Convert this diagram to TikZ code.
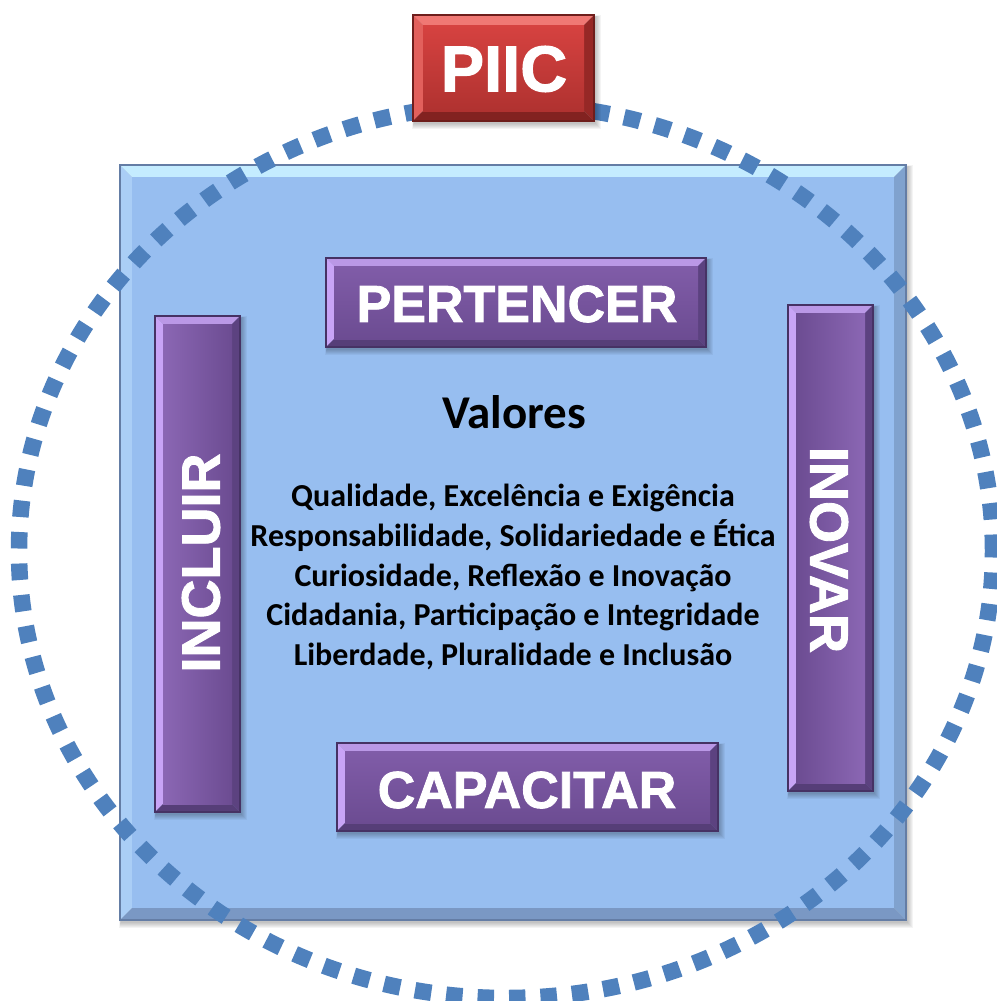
\documentclass[tikz,border=0pt]{standalone}
\usepackage{fontspec}
\newfontfamily\boxfont[BoldFeatures={FakeBold=1.6}]{Liberation Sans}
\newfontfamily\calfont{Carlito}
\definecolor{blface}{RGB}{151,190,240}
\definecolor{bltop}{RGB}{196,236,255}
\definecolor{blleft}{RGB}{170,206,246}
\definecolor{blright}{RGB}{128,162,206}
\definecolor{blbot}{RGB}{122,152,196}
\definecolor{blline}{RGB}{100,125,165}
\definecolor{puface}{RGB}{128,92,168}
\definecolor{pudark}{RGB}{108,76,146}
\definecolor{putop}{RGB}{186,152,230}
\definecolor{puleft}{RGB}{200,164,246}
\definecolor{puright}{RGB}{92,66,128}
\definecolor{pubot}{RGB}{86,62,120}
\definecolor{puline}{RGB}{70,50,100}
\definecolor{rdface}{RGB}{214,66,64}
\definecolor{rddark}{RGB}{176,50,48}
\definecolor{rdtop}{RGB}{240,120,116}
\definecolor{rdleft}{RGB}{226,96,92}
\definecolor{rdright}{RGB}{150,40,38}
\definecolor{rdbot}{RGB}{130,34,32}
\definecolor{rdline}{RGB}{110,30,28}
\definecolor{ringc}{RGB}{79,129,189}
\tikzset{
  boxlabel/.style={text=white,inner sep=0pt},
  vallabel/.style={font=\calfont\bfseries\fontsize{32}{39.7}\selectfont,align=center,inner sep=0pt},
  ring/.style={draw=ringc,line width=16.5pt,dash pattern=on 16.5pt off 15pt},
}
% #1 x1, #2 y1, #3 x2, #4 y2, #5 bevel, #6 colour prefix
\newcommand\mybevbox[6]{%
  \foreach \s in {1,2,...,6}{
    \fill[black,opacity=0.045] (#1+1-\s*0.3,#2+2-\s*0.3) rectangle (#3+1+\s,#4+2+\s);
  }
  \fill[#6top] (#1,#2) -- (#3,#2) -- (#3-#5,#2+#5) -- (#1+#5,#2+#5) -- cycle;
  \fill[#6left] (#1,#2) -- (#1+#5,#2+#5) -- (#1+#5,#4-#5) -- (#1,#4) -- cycle;
  \fill[#6right] (#3,#2) -- (#3,#4) -- (#3-#5,#4-#5) -- (#3-#5,#2+#5) -- cycle;
  \fill[#6bot] (#1,#4) -- (#1+#5,#4-#5) -- (#3-#5,#4-#5) -- (#3,#4) -- cycle;
  \draw[#6line,line width=1.2pt] (#1,#2) rectangle (#3,#4);
}
% #1 name, #2 x, #3 y, #4 rotation, #5 size, #6 text
\newcommand\myboxtext[6]{%
  \node[boxlabel,rotate=#4,font=\boxfont\bfseries\fontsize{#5}{#5}\selectfont] (#1) at (#2,#3) {#6};
}
\begin{document}
\begin{tikzpicture}[x=1pt,y=-1pt]
\useasboundingbox (0,0) rectangle (996,1001);
% blue square
\mybevbox{120}{165}{906}{920}{12}{bl}
\fill[blface] (132,177) rectangle (894,908);
% dotted ring
\draw[ring] (506,551) ellipse [x radius=487pt, y radius=447pt];
% red PIIC
\mybevbox{413}{15}{594}{121}{10}{rd}
\shade[top color=rdface,bottom color=rddark] (423,25) rectangle (584,111);
\myboxtext{piic}{504}{69}{0}{65}{PIIC}
% PERTENCER
\mybevbox{326}{258}{706}{347}{8}{pu}
\shade[top color=puface,bottom color=pudark] (334,266) rectangle (698,339);
\myboxtext{pertencer}{517}{304}{0}{52}{PERTENCER}
% CAPACITAR
\mybevbox{337}{743}{718}{831}{8}{pu}
\shade[top color=puface,bottom color=pudark] (345,751) rectangle (710,823);
\myboxtext{capacitar}{527}{790}{0}{52}{CAPACITAR}
% INCLUIR
\mybevbox{155}{316}{240}{812}{8}{pu}
\shade[left color=puface!85!puleft,right color=pudark] (163,324) rectangle (232,804);
\myboxtext{incluir}{201}{563}{90}{54}{INCLUIR}
% INOVAR
\mybevbox{788}{305}{873}{791}{8}{pu}
\shade[left color=pudark,right color=puface!85!puleft] (796,313) rectangle (865,783);
\myboxtext{inovar}{829}{550}{-90}{54}{INOVAR}
% values
\node[font=\calfont\bfseries\fontsize{47}{52}\selectfont,inner sep=0pt] (valores) at (514,412) {Valores};
\node[vallabel] (lista) at (513,577) {Qualidade, Excelência e Exigência\\
Responsabilidade, Solidariedade e Ética\\
Curiosidade, Reflexão e Inovação\\
Cidadania, Participação e Integridade\\
Liberdade, Pluralidade e Inclusão};
\end{tikzpicture}
\end{document}
